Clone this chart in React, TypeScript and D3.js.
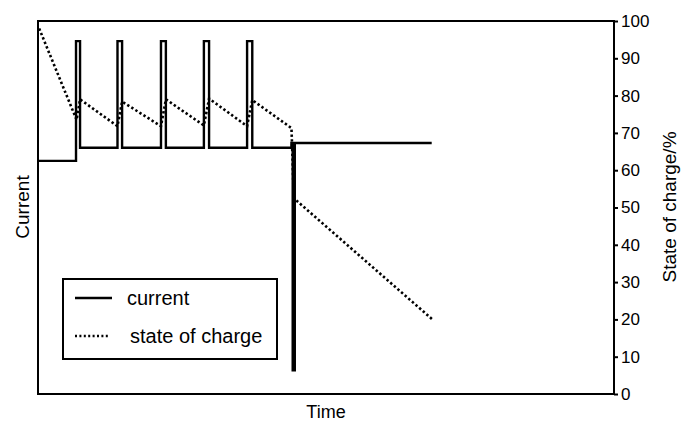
import React from 'react';
import * as d3 from 'd3';

// constants
const width = 681;
const height = 426;
const plot = { left: 38, right: 614, top: 21, bottom: 394 };
const font = '"Liberation Sans", Arial, Helvetica, sans-serif';

// current trace (arbitrary units, time in % of axis)
const currentTime = [0, 6.6, 6.6, 7.3, 7.3, 13.8, 13.8, 14.6, 14.6, 21.35, 21.35, 22.2, 22.2, 28.8, 28.8, 29.7, 29.7, 36.3, 36.3, 37.2, 37.2, 44.0, 44.0, 68.35];
const currentValue = [62.5, 62.5, 94.6, 94.6, 66, 66, 94.6, 94.6, 66, 66, 94.6, 94.6, 66, 66, 94.6, 94.6, 66, 66, 94.6, 94.6, 66, 66, 67.3, 67.3];
// short discharge spike
const spikeTime = [44.4, 44.4];
const spikeValue = [67.3, 6];

// state of charge (%)
const socTime = [0.2, 6.7, 7.3, 13.8, 14.6, 21.35, 22.2, 28.8, 29.7, 36.3, 37.2, 44.0, 44.1, 44.4, 68.4];
const socValue = [98, 73.5, 79, 71.8, 78.4, 71.8, 79, 72, 79.2, 71.8, 78.8, 71.3, 67.3, 52.5, 20.1];

const socTicks = [0, 10, 20, 30, 40, 50, 60, 70, 80, 90, 100];

const App = () => {
  const xScale = d3.scaleLinear().domain([0, 100]).range([plot.left, plot.right]);
  const yScale = d3.scaleLinear().domain([0, 100]).range([plot.bottom, plot.top]);

  const line = d3.line<[number, number]>()
    .x(d => xScale(d[0]))
    .y(d => yScale(d[1]));

  const currentPath = line(currentTime.map((t, i) => [t, currentValue[i]]));
  const spikePath = line(spikeTime.map((t, i) => [t, spikeValue[i]]));
  const socPath = line(socTime.map((t, i) => [t, socValue[i]]));

  // right axis
  const axisRef = (node: SVGGElement | null) => {
    if (!node) return;
    const g = d3.select(node);
    g.call(d3.axisRight(yScale).tickValues(socTicks).tickSize(4).tickSizeOuter(0).tickFormat(d3.format('d')));
    g.select('.domain').remove();
    g.selectAll('line').attr('stroke', '#000').attr('stroke-width', 2);
    g.selectAll('text')
      .attr('font-family', font)
      .attr('font-size', 17)
      .attr('fill', '#000');
  };

  return (
    <svg width={width} height={height} style={{ position: 'absolute', left: 0, top: 0, background: '#fff' }}>
      {/* frame */}
      <rect x={plot.left} y={plot.top} width={plot.right - plot.left} height={plot.bottom - plot.top}
        fill="none" stroke="#000" strokeWidth={2} />
      <g ref={axisRef} transform={`translate(${plot.right},0)`} />

      {/* series */}
      <path d={socPath ?? ''} fill="none" stroke="#000" strokeWidth={2.6} strokeDasharray="2.4,2.4" />
      <path d={currentPath ?? ''} fill="none" stroke="#000" strokeWidth={2.4} />
      <path d={spikePath ?? ''} fill="none" stroke="#000" strokeWidth={4.5} />

      {/* legend */}
      <rect x={63} y={279} width={214} height={80} fill="#fff" stroke="#000" strokeWidth={2} />
      <line x1={75} x2={112} y1={298} y2={298} stroke="#000" strokeWidth={2.4} />
      <line x1={75} x2={110} y1={336} y2={336} stroke="#000" strokeWidth={2.4} strokeDasharray="2,2.4" />
      <text x={127} y={305} fontFamily={font} fontSize={20}>current</text>
      <text x={130} y={343} fontFamily={font} fontSize={20}>state of charge</text>

      {/* axis titles */}
      <text x={(plot.left + plot.right) / 2} y={418} textAnchor="middle" fontFamily={font} fontSize={18}>Time</text>
      <text transform={`translate(29,207) rotate(-90)`} textAnchor="middle" fontFamily={font} fontSize={19}>Current</text>
      <text transform={`translate(676,207) rotate(-90)`} textAnchor="middle" fontFamily={font} fontSize={19}>State of charge/%</text>
    </svg>
  );
};

export default App;
